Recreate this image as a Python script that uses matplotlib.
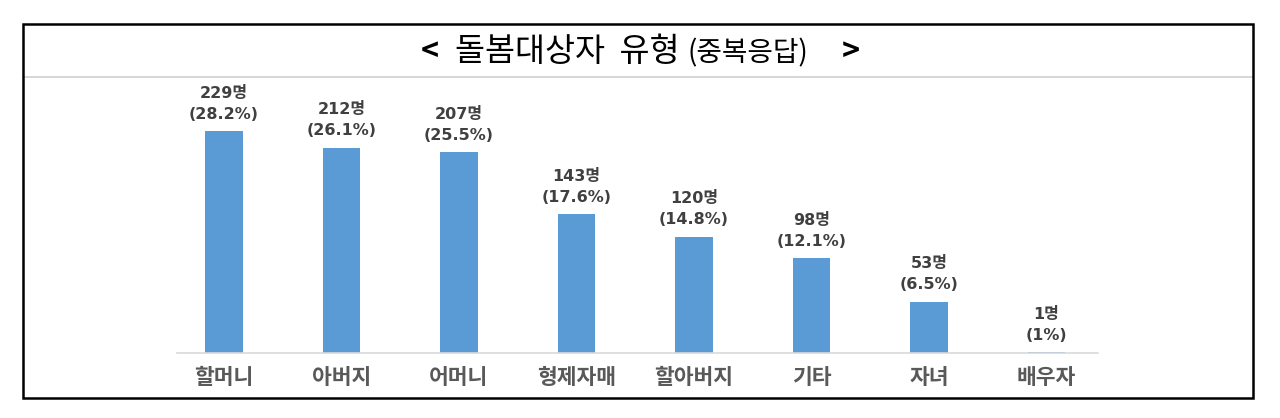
import matplotlib
matplotlib.use("Agg")
import matplotlib.pyplot as plt
from matplotlib.patches import Rectangle
from matplotlib.lines import Line2D

plt.rcParams['font.family'] = ['Noto Sans CJK KR', 'DejaVu Sans']

categories = ["할머니", "아버지", "어머니", "형제자매", "할아버지", "기타", "자녀", "배우자"]
counts = [229, 212, 207, 143, 120, 98, 53, 1]
percents = ["28.2%", "26.1%", "25.5%", "17.6%", "14.8%", "12.1%", "6.5%", "1%"]

W, H = 1280, 418
fig = plt.figure(figsize=(W / 100, H / 100), dpi=100)

def fx(px):
    return px / W

def fy(py):
    return 1 - py / H

# outer frame
fig.patches.append(Rectangle((fx(23), fy(398)), fx(1253) - fx(23), fy(24) - fy(398),
                             transform=fig.transFigure, fill=False, edgecolor='black',
                             linewidth=1.8, zorder=10))
# title divider
fig.lines.append(Line2D([fx(23), fx(1253)], [fy(77), fy(77)], transform=fig.transFigure,
                        color='#d0d0d0', linewidth=1.2))

# title
fig.text(fx(421), fy(52), "<", fontsize=22, ha='left', va='center', color='black',
         fontweight='bold')
fig.text(fx(455), fy(52), "돌봄대상자  유형", fontsize=23.5, ha='left', va='center', color='black')
fig.text(fx(688), fy(53), "(중복응답)", fontsize=20, ha='left', va='center', color='black')
fig.text(fx(842), fy(52), ">", fontsize=22, ha='left', va='center', color='black',
         fontweight='bold')

ax = fig.add_axes([fx(177), fy(353), fx(1098) - fx(177), fy(80) - fy(353)])
x = list(range(len(categories)))
ax.bar(x, counts, width=0.32, color='#5b9bd5', zorder=2)
ax.set_xlim(-0.4, 7.44)
ax.set_ylim(0, 281.7)

for s in ['top', 'right', 'left']:
    ax.spines[s].set_visible(False)
ax.spines['bottom'].set_color('#d9d9d9')
ax.spines['bottom'].set_linewidth(1.2)
ax.set_yticks([])
ax.set_xticks(x)
ax.set_xticklabels(categories, fontsize=15.5, color='#595959', fontweight='bold')
ax.tick_params(axis='x', length=0, pad=10)

lab_fam = ['DejaVu Sans', 'Noto Sans CJK KR']
for xi, c, p in zip(x, counts, percents):
    ax.annotate(f"({p})", (xi, c), xytext=(0, 17), textcoords='offset pixels',
                ha='center', va='center', fontsize=11.5, fontweight='bold', color='#404040',
                family=lab_fam)
    ax.annotate(f"{c}명", (xi, c), xytext=(0, 38), textcoords='offset pixels',
                ha='center', va='center', fontsize=11.5, fontweight='bold', color='#404040',
                family=lab_fam)

fig.savefig("out.png", dpi=100, facecolor='white')
